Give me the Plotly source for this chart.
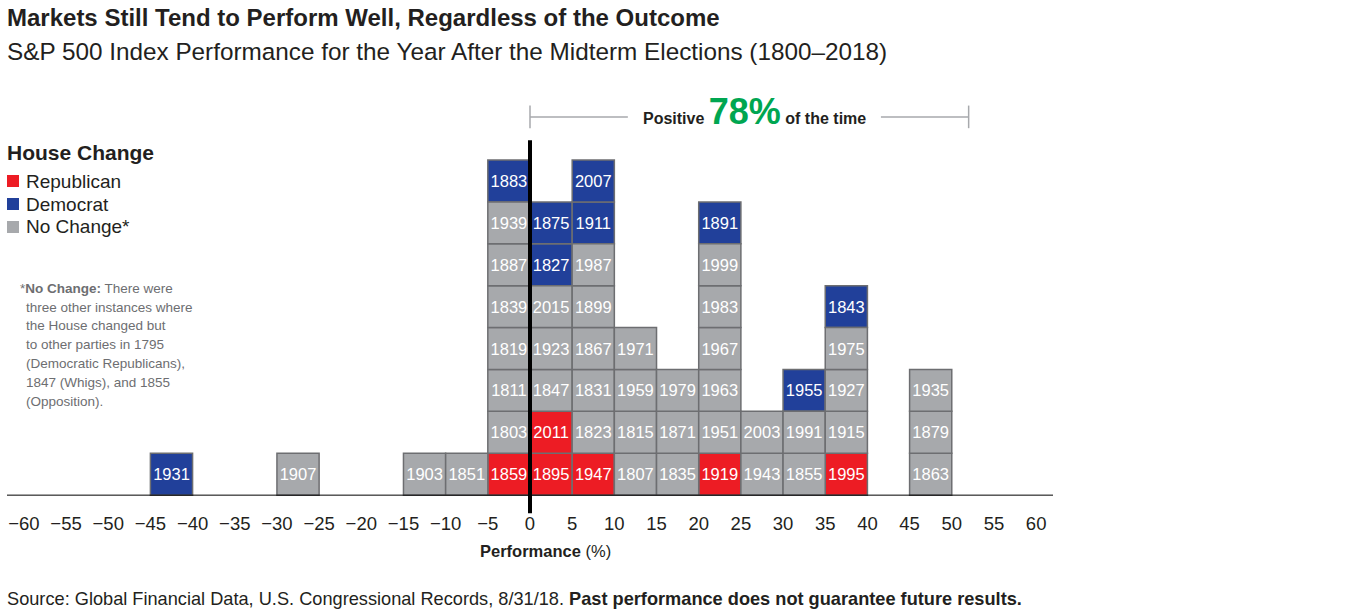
import plotly.graph_objects as go

# ---------------- data ----------------
# Each year is placed in the 5-point performance bin given by its left edge.
years = [1931,
         1907,
         1903,
         1851,
         1859, 1803, 1811, 1819, 1839, 1887, 1939, 1883,
         1895, 2011, 1847, 1923, 2015, 1827, 1875,
         1947, 1823, 1831, 1867, 1899, 1987, 1911, 2007,
         1807, 1815, 1959, 1971,
         1835, 1871, 1979,
         1919, 1951, 1963, 1967, 1983, 1999, 1891,
         1943, 2003,
         1855, 1991, 1955,
         1995, 1915, 1927, 1975, 1843,
         1863, 1879, 1935]
bin_left = [-45,
            -30,
            -15,
            -10,
            -5, -5, -5, -5, -5, -5, -5, -5,
            0, 0, 0, 0, 0, 0, 0,
            5, 5, 5, 5, 5, 5, 5, 5,
            10, 10, 10, 10,
            15, 15, 15,
            20, 20, 20, 20, 20, 20, 20,
            25, 25,
            30, 30, 30,
            35, 35, 35, 35, 35,
            45, 45, 45]
house_change = ["D",
                "N",
                "N",
                "N",
                "R", "N", "N", "N", "N", "N", "N", "D",
                "R", "R", "N", "N", "N", "D", "D",
                "R", "N", "N", "N", "N", "N", "D", "D",
                "N", "N", "N", "N",
                "N", "N", "N",
                "R", "N", "N", "N", "N", "N", "D",
                "N", "N",
                "N", "N", "D",
                "R", "N", "N", "N", "D",
                "N", "N", "N"]
party_names = {"R": "Republican", "D": "Democrat", "N": "No Change*"}
party_colors = {"R": "#ed1c24", "D": "#21409a", "N": "#a7a9ac"}
tick_vals = list(range(-60, 61, 5))
tick_text = [("\u2212" + str(abs(v))) if v < 0 else str(v) for v in tick_vals]
note_lines = ["three other instances where",
              "the House changed but",
              "to other parties in 1795",
              "(Democratic Republicans),",
              "1847 (Whigs), and 1855",
              "(Opposition)."]
bin_width = 5

# stack position within each bin (order as listed)
stack_level = []
counts = {}
for b in bin_left:
    stack_level.append(counts.get(b, 0))
    counts[b] = counts.get(b, 0) + 1

positive_share = sum(1 for b in bin_left if b >= 0) / len(bin_left)

FONT = "Liberation Sans, Arial, Helvetica, sans-serif"
TXT = "#231f20"
NOTE = "#6d6e71"

fig = go.Figure()
for p in ["R", "D", "N"]:
    idx = [i for i, h in enumerate(house_change) if h == p]
    fig.add_trace(go.Bar(
        x=[bin_left[i] + bin_width / 2 for i in idx],
        y=[1] * len(idx),
        base=[stack_level[i] for i in idx],
        width=bin_width,
        name=party_names[p],
        marker=dict(color=party_colors[p], line=dict(color="#6d6e71", width=1.5)),
        text=[str(years[i]) for i in idx],
        textposition="inside",
        insidetextanchor="middle",
        textangle=0,
        constraintext="none",
        textfont=dict(family=FONT, size=16.5, color="white"),
        hoverinfo="skip",
        showlegend=False,
    ))

# geometry (pixels in the 1356x612 picture)
L, R, T, B = 7, 303, 93, 98
W = 1356 - L - R
H = 612 - T - B
def px(xp):
    return (xp - L) / W
def py(yp):
    return (612 - B - yp) / H

shapes = []
# baseline
shapes.append(dict(type="line", xref="paper", yref="y", x0=0, x1=1, y0=0, y1=0,
                   line=dict(color="black", width=1)))
# zero line
shapes.append(dict(type="line", xref="x", yref="y", x0=0, x1=0, y0=-0.43, y1=8.47,
                   line=dict(color="black", width=4)))
# bracket
br_y = 9.03
for (a, b) in [(0, 11.6), (41.6, 52)]:
    shapes.append(dict(type="line", xref="x", yref="y", x0=a, x1=b, y0=br_y, y1=br_y,
                       line=dict(color="#a7a9ac", width=1.5)))
for xv in [0, 52]:
    shapes.append(dict(type="line", xref="x", yref="y", x0=xv, x1=xv, y0=br_y - 0.27, y1=br_y + 0.27,
                       line=dict(color="#a7a9ac", width=1.5)))

annotations = []
annotations.append(dict(xref="x", yref="y", x=26.6, y=br_y + 0.12, showarrow=False,
                        xanchor="center", yanchor="middle",
                        text="<b>Positive <span style='font-size:36px;color:#00a651'>%d%%</span> of the time</b>" % round(positive_share * 100),
                        font=dict(family=FONT, size=16, color=TXT)))

# titles
annotations.append(dict(xref="paper", yref="paper", x=px(5), y=py(17), xanchor="left", yanchor="middle",
                        showarrow=False, text="<b>Markets Still Tend to Perform Well, Regardless of the Outcome</b>",
                        font=dict(family=FONT, size=24, color=TXT)))
annotations.append(dict(xref="paper", yref="paper", x=px(5), y=py(52), xanchor="left", yanchor="middle",
                        showarrow=False, text="S&P 500 Index Performance for the Year After the Midterm Elections (1800\u20132018)",
                        font=dict(family=FONT, size=24.3, color=TXT)))

# legend
annotations.append(dict(xref="paper", yref="paper", x=px(5), y=py(152), xanchor="left", yanchor="middle",
                        showarrow=False, text="<b>House Change</b>",
                        font=dict(family=FONT, size=21, color=TXT)))
for p, yy in zip(["R", "D", "N"], [181, 204, 227]):
    shapes.append(dict(type="rect", xref="paper", yref="paper",
                       x0=px(7), x1=px(19), y0=py(yy + 6), y1=py(yy - 6),
                       fillcolor=party_colors[p], line=dict(width=0)))
    annotations.append(dict(xref="paper", yref="paper", x=px(24), y=py(yy), xanchor="left", yanchor="middle",
                            showarrow=False, text=party_names[p],
                            font=dict(family=FONT, size=19, color=TXT)))

# note
annotations.append(dict(xref="paper", yref="paper", x=px(18), y=py(288), xanchor="left", yanchor="middle",
                        showarrow=False, text="*<b>No Change:</b> There were",
                        font=dict(family=FONT, size=13.5, color=NOTE)))
for k, line in enumerate(note_lines):
    annotations.append(dict(xref="paper", yref="paper", x=px(24), y=py(307 + 18.8 * k),
                            xanchor="left", yanchor="middle", showarrow=False, text=line,
                            font=dict(family=FONT, size=13.5, color=NOTE)))

# axis title
annotations.append(dict(xref="x", yref="paper", x=1.8, y=py(551), xanchor="center", yanchor="middle",
                        showarrow=False, text="<b>Performance</b> (%)",
                        font=dict(family=FONT, size=16.5, color=TXT)))
# source
annotations.append(dict(xref="paper", yref="paper", x=px(5), y=py(599), xanchor="left", yanchor="middle",
                        showarrow=False,
                        text="Source: Global Financial Data, U.S. Congressional Records, 8/31/18. <b>Past performance does not guarantee future results.</b>",
                        font=dict(family=FONT, size=18.2, color=TXT)))

fig.update_layout(
    width=1356, height=612,
    margin=dict(l=L, r=R, t=T, b=B, pad=0),
    paper_bgcolor="white", plot_bgcolor="white",
    barmode="overlay",
    showlegend=False,
    shapes=shapes,
    annotations=annotations,
    xaxis=dict(range=[-62, 62], tickvals=tick_vals, ticktext=tick_text,
               showgrid=False, zeroline=False, showline=False, ticks="",
               tickfont=dict(family=FONT, size=18.5, color=TXT), ticklabelstandoff=-4),
    yaxis=dict(range=[-0.45, 9.6], showgrid=False, zeroline=False, showline=False,
               showticklabels=False, ticks=""),
    font=dict(family=FONT, color=TXT),
)

fig.write_html("out.html", config={"displayModeBar": False},
               post_script="document.body.style.margin='0px';")
